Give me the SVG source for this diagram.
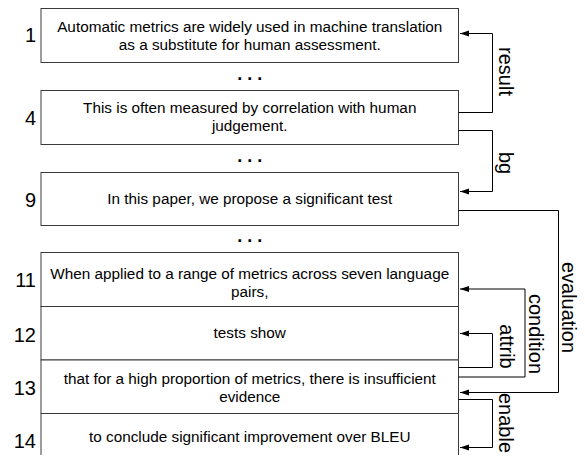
<svg xmlns="http://www.w3.org/2000/svg" width="585" height="465" viewBox="0 0 585 465">
<style>
.box{fill:#fff;stroke:#3a3a3a;stroke-width:1}
.t{font-family:"Liberation Sans",Arial,sans-serif;font-size:15.3px;fill:#000;text-anchor:middle}
.n{font-family:"Liberation Sans",Arial,sans-serif;font-size:20px;fill:#000;text-anchor:end}
.dots{font-family:"Liberation Sans",Arial,sans-serif;font-size:18px;font-weight:bold;fill:#000;text-anchor:middle}
.c{fill:none;stroke:#000;stroke-width:1}
.l{font-family:"Liberation Sans",Arial,sans-serif;font-size:20px;fill:#000;text-anchor:middle}
</style>
<defs>
<marker id="ah" markerUnits="userSpaceOnUse" markerWidth="10" markerHeight="8" refX="9" refY="4" orient="auto">
<path d="M0,1 L9,4 L0,7 Z" fill="#000"/>
</marker>
</defs>
<rect width="585" height="465" fill="#fff"/>
<g id="n1">
<rect class="box" x="41" y="8.5" width="417.5" height="54"/>
<text class="n" x="36" y="42">1</text>
<text class="t" x="249.75" y="32">Automatic metrics are widely used in machine translation</text>
<text class="t" x="249.75" y="50">as a substitute for human assessment.</text>
</g>
<g id="n4">
<rect class="box" x="41" y="90.5" width="417.5" height="54"/>
<text class="n" x="36" y="124.5">4</text>
<text class="t" x="249.75" y="113">This is often measured by correlation with human</text>
<text class="t" x="249.75" y="131">judgement.</text>
</g>
<g id="n9">
<rect class="box" x="41" y="172.5" width="417.5" height="53"/>
<text class="n" x="36" y="206.5">9</text>
<text class="t" x="249.75" y="204">In this paper, we propose a significant test</text>
</g>
<g id="ellipses">
<text class="dots" x="249.75" y="79.5">. . .</text>
<text class="dots" x="249.75" y="161.5">. . .</text>
<text class="dots" x="249.75" y="242">. . .</text>
</g>
<g id="n11">
<rect class="box" x="41" y="252.5" width="417.5" height="54"/>
<text class="n" x="36" y="287">11</text>
<text class="t" x="249.75" y="279">When applied to a range of metrics across seven language</text>
<text class="t" x="249.75" y="297">pairs,</text>
</g>
<g id="n12">
<rect class="box" x="41" y="306.5" width="417.5" height="53.5"/>
<text class="n" x="36" y="341.5">12</text>
<text class="t" x="249.75" y="338">tests show</text>
</g>
<g id="n13">
<rect class="box" x="41" y="360" width="417.5" height="53.5"/>
<text class="n" x="36" y="394.5">13</text>
<text class="t" x="249.75" y="384">that for a high proportion of metrics, there is insufficient</text>
<text class="t" x="249.75" y="401.5">evidence</text>
</g>
<g id="n14">
<path class="box" d="M41,455 V413.5 H458.5 V455"/>
<text class="n" x="36" y="447.5">14</text>
<text class="t" x="249.75" y="441.5">to conclude significant improvement over BLEU</text>
</g>
<g id="connectors">
<path class="c" d="M458.5,112.5 H492.5 V33.5 H460" marker-end="url(#ah)"/>
<path class="c" d="M458.5,130.5 H492.5 V191.5 H460" marker-end="url(#ah)"/>
<path class="c" d="M458.5,210.5 H558.5 V392.5 H460" marker-end="url(#ah)"/>
<path class="c" d="M458.5,377 H525 V289 H460" marker-end="url(#ah)"/>
<path class="c" d="M458.5,367.5 H492.5 V333.5 H460" marker-end="url(#ah)"/>
<path class="c" d="M458.5,399.5 H492.5 V447.5 H460" marker-end="url(#ah)"/>
<text class="l" transform="translate(498.5,71.5) rotate(90)">result</text>
<text class="l" transform="translate(498.5,163) rotate(90)">bg</text>
<text class="l" transform="translate(562,307.5) rotate(90)">evaluation</text>
<text class="l" transform="translate(529,334) rotate(90)">condition</text>
<text class="l" transform="translate(500,346.5) rotate(90)">attrib</text>
<text class="l" transform="translate(498.5,423) rotate(90)">enable</text>
</g>
</svg>
